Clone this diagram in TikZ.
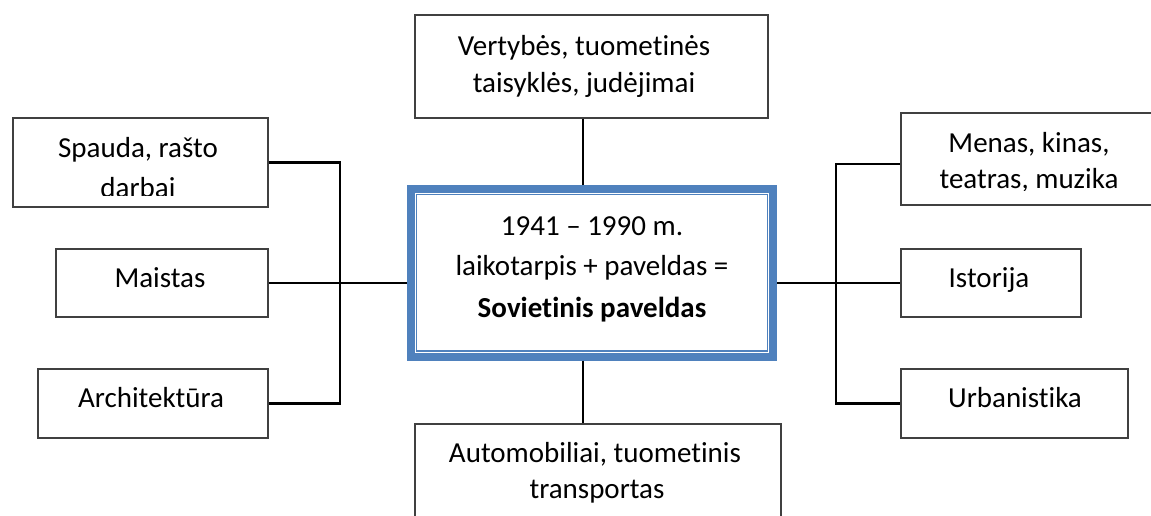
\documentclass[tikz,border=0pt]{standalone}
\usepackage{fontspec}
\setmainfont{Carlito}[Ligatures=NoCommon]
\definecolor{wordblue}{HTML}{4F81BD}
\definecolor{boxgray}{HTML}{404040}
\begin{document}
\begin{tikzpicture}[x=1pt,y=-1pt,
  box/.style={draw=boxgray, line width=1.6pt, rectangle, inner sep=0pt, anchor=north west},
  txt/.style={anchor=base, inner sep=0pt, font=\fontsize{29}{37}\selectfont},
  conn/.style={draw=black, line width=2.4pt}]
\clip (0,0) rectangle (1151,515);
\fill[white] (0,0) rectangle (1151,515);

% boxes
\node[box, minimum width=353pt, minimum height=103pt] (top) at (414,14) {};
\node[box, minimum width=255pt, minimum height=89pt] (spauda) at (12,117) {};
\node[box, minimum width=212pt, minimum height=68pt] (maistas) at (55,248) {};
\node[box, minimum width=230pt, minimum height=69pt] (arch) at (37,368) {};
\node[box, minimum width=260pt, minimum height=92pt] (menas) at (900,112) {};
\node[box, minimum width=180pt, minimum height=68pt] (istorija) at (900,248) {};
\node[box, minimum width=227pt, minimum height=69pt] (urban) at (900,368) {};
\node[box, minimum width=366pt, minimum height=110pt] (bottom) at (414,423) {};

% central box (thick-thin border)
\node[draw=wordblue, line width=8pt, rectangle, inner sep=0pt,
      minimum width=362pt, minimum height=167.5pt] (cbox) at (592,272.75) {};
\draw[wordblue, line width=1.8pt] ([shift={(9.5,9.5)}]cbox.north west) rectangle ([shift={(-9.5,-9.5)}]cbox.south east);

% connectors
\coordinate (tc) at (583,0);
\coordinate (jl) at (340,280);
\coordinate (jr) at (836,280);
\draw[conn] (top.south -| tc) -- (cbox.north -| tc);
\draw[conn] (cbox.south -| tc) -- (bottom.north -| tc);
\draw[conn] (spauda.east) -| (jl) |- (arch.east);
\draw[conn] (maistas.east) -- (maistas.east -| cbox.west);
\draw[conn] ([yshift=-5pt]menas.west) -| (jr) |- (urban.west);
\draw[conn] (cbox.east |- istorija.west) -- (istorija.west);

% texts
\node[txt] (t1a) at (584,55) {Vertybės, tuometinės};
\node[txt] (t1b) at (584,92) {taisyklės, judėjimai};
\node[txt] (c1) at (592,235) {1941 – 1990 m.};
\node[txt] (c2) at (592,275) {laikotarpis + paveldas =};
\node[txt] (c3) at (592,317) {\bfseries Sovietinis paveldas};
\begin{scope}
  \clip (12,117) rectangle (267,195);
  \node[txt] (s1) at (138,157) {Spauda, rašto};
  \node[txt] (s2) at (138,197) {darbai};
\end{scope}
\node[txt] (m1) at (160,287) {Maistas};
\node[txt] (a1) at (151,407) {Architektūra};
\begin{scope}
  \clip (900,112) rectangle (1160,190);
  \node[txt] (k1) at (1029,152) {Menas, kinas,};
  \node[txt] (k2) at (1029,188) {teatras, muzika};
\end{scope}
\node[txt] (i1) at (989,287) {Istorija};
\node[txt] (u1) at (1015,407) {Urbanistika};
\node[txt] (b1) at (595,462) {Automobiliai, tuometinis};
\node[txt] (b2) at (597,498) {transportas};
\end{tikzpicture}
\end{document}
